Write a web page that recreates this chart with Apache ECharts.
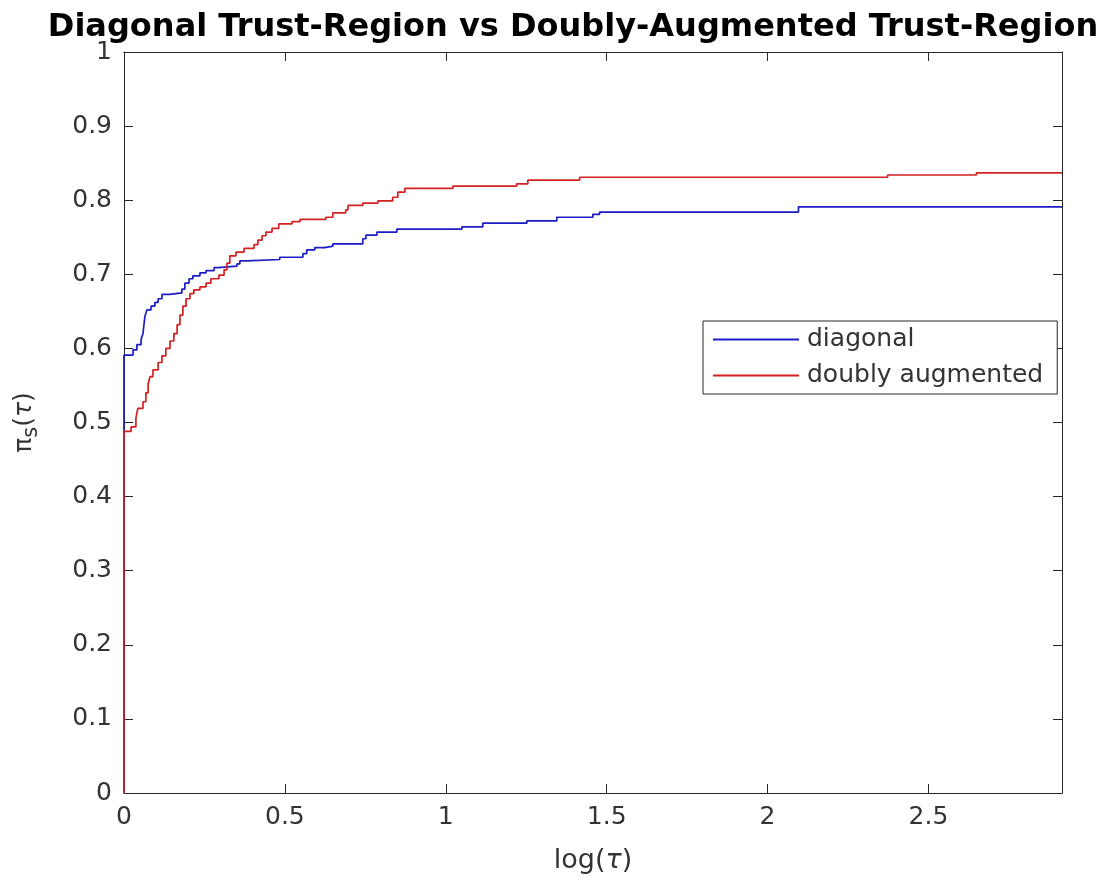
<!DOCTYPE html>
<html>
<head>
<meta charset="utf-8">
<script src="https://cdn.jsdelivr.net/npm/echarts@6/dist/echarts.min.js"></script>
<style>
  html, body { margin: 0; padding: 0; background: #fff; }
  #chart { width: 1120px; height: 882px; }
</style>
</head>
<body>
<div id="chart"></div>
<script>
// Performance profiles: fraction of problems solved within a factor tau of the best
const xMin = 0;
const xMax = 2.915;
const xInterval = 0.5;
const yTicks = [0, 0.1, 0.2, 0.3, 0.4, 0.5, 0.6, 0.7, 0.8, 0.9, 1];

const seriesNames = ['diagonal', 'doubly augmented'];

// [log(tau), pi_s(tau)] where the profile jumps to the given value
const diagonalProfile = [
  [0, 0], [0, 0.591], [0.028, 0.598], [0.040, 0.605], [0.053, 0.612], [0.059, 0.620],
  [0.062, 0.632], [0.065, 0.643], [0.071, 0.652], [0.084, 0.657], [0.096, 0.662],
  [0.106, 0.667], [0.118, 0.673], [0.143, 0.675], [0.180, 0.680], [0.189, 0.688],
  [0.202, 0.694], [0.214, 0.698], [0.236, 0.702], [0.255, 0.705], [0.280, 0.709],
  [0.292, 0.711], [0.351, 0.714], [0.360, 0.718], [0.382, 0.720], [0.484, 0.723],
  [0.556, 0.728], [0.568, 0.733], [0.593, 0.736], [0.624, 0.738], [0.649, 0.741],
  [0.742, 0.748], [0.752, 0.753], [0.786, 0.757], [0.848, 0.761], [1.050, 0.764],
  [1.115, 0.769], [1.252, 0.772], [1.345, 0.777], [1.457, 0.781], [1.478, 0.784],
  [2.096, 0.791], [2.915, 0.791]
];

const doublyAugmentedProfile = [
  [0, 0], [0, 0.488], [0.022, 0.494], [0.037, 0.506], [0.043, 0.519], [0.059, 0.528],
  [0.068, 0.540], [0.075, 0.552], [0.081, 0.562], [0.090, 0.571], [0.106, 0.581],
  [0.118, 0.590], [0.130, 0.600], [0.143, 0.610], [0.155, 0.620], [0.165, 0.632],
  [0.174, 0.645], [0.183, 0.657], [0.193, 0.667], [0.205, 0.674], [0.217, 0.679],
  [0.236, 0.683], [0.255, 0.688], [0.270, 0.694], [0.295, 0.699], [0.311, 0.706],
  [0.320, 0.715], [0.329, 0.725], [0.348, 0.730], [0.373, 0.735], [0.404, 0.740],
  [0.416, 0.746], [0.429, 0.752], [0.441, 0.757], [0.460, 0.762], [0.481, 0.768],
  [0.522, 0.771], [0.547, 0.774], [0.627, 0.777], [0.649, 0.783], [0.689, 0.787],
  [0.696, 0.793], [0.742, 0.796], [0.789, 0.799], [0.835, 0.804], [0.851, 0.811],
  [0.873, 0.816], [1.022, 0.819], [1.220, 0.822], [1.255, 0.827], [1.416, 0.831],
  [2.373, 0.834], [2.649, 0.837], [2.915, 0.837]
];

const axisColor = '#262626';
const labelColor = '#333333';
const fontFamily = 'DejaVu Sans';

function xLabel(v) {
  const k = Math.round(v / xInterval);
  return Math.abs(k * xInterval - v) < 1e-9 ? String(v) : '';
}

const baseX = {
  type: 'value', min: xMin, max: xMax, interval: xInterval,
  axisLine: { show: true, onZero: false, lineStyle: { color: axisColor, width: 1 } },
  axisTick: { show: true, inside: true, length: 9, lineStyle: { color: axisColor } },
  splitLine: { show: false }
};
const baseY = {
  type: 'value', min: yTicks[0], max: yTicks[yTicks.length - 1], interval: 0.1,
  axisLine: { show: true, onZero: false, lineStyle: { color: axisColor, width: 1 } },
  axisTick: { show: true, inside: true, length: 9, lineStyle: { color: axisColor } },
  splitLine: { show: false }
};

const chart = echarts.init(document.getElementById('chart'), null, { renderer: 'canvas' });
chart.setOption({
  animation: false,
  backgroundColor: '#ffffff',
  textStyle: { fontFamily: fontFamily },
  title: {
    text: 'Diagonal Trust-Region vs Doubly-Augmented Trust-Region',
    left: 568, top: 7, textAlign: 'center',
    textStyle: { fontFamily: fontFamily, fontWeight: 'bold', fontSize: 32, color: '#000' }
  },
  grid: { left: 124, right: 58, top: 52, bottom: 89, containLabel: false },
  legend: {
    data: seriesNames,
    orient: 'vertical',
    left: 703, top: 321,
    padding: [6, 14, 6, 10],
    itemGap: 11,
    itemWidth: 86, itemHeight: 2,
    icon: 'rect',
    backgroundColor: '#fff',
    borderColor: axisColor, borderWidth: 1,
    textStyle: { fontSize: 25, color: labelColor, fontFamily: fontFamily, padding: [0, 0, 0, 3] }
  },
  xAxis: [
    Object.assign({}, baseX, {
      position: 'bottom',
      name: '{p|log(}{t|τ}{p|)}', nameLocation: 'middle', nameGap: 54,
      nameTextStyle: {
        color: labelColor,
        rich: {
          p: { fontSize: 27, color: labelColor, fontFamily: fontFamily },
          t: { fontSize: 27, color: labelColor, fontFamily: fontFamily, fontStyle: 'italic' }
        }
      },
      axisLabel: { show: true, fontSize: 25, color: labelColor, margin: 12, formatter: xLabel, showMaxLabel: false }
    }),
    Object.assign({}, baseX, { position: 'top', axisLabel: { show: false } })
  ],
  yAxis: [
    Object.assign({}, baseY, {
      position: 'left',
      name: '{p|π}{s|s}{p|(}{t|τ}{p|)}', nameLocation: 'middle', nameGap: 82, nameRotate: 90,
      nameTextStyle: {
        color: labelColor,
        rich: {
          p: { fontSize: 25, color: labelColor, fontFamily: fontFamily },
          t: { fontSize: 25, color: labelColor, fontFamily: fontFamily, fontStyle: 'italic' },
          s: { fontSize: 21, color: labelColor, fontFamily: fontFamily, verticalAlign: 'bottom', padding: [14, 0, 0, 0] }
        }
      },
      axisLabel: { show: true, fontSize: 25, color: labelColor, margin: 12 }
    }),
    Object.assign({}, baseY, { position: 'right', axisLabel: { show: false } })
  ],
  series: [
    {
      name: seriesNames[0], type: 'line', step: 'end', showSymbol: false,
      data: diagonalProfile, xAxisIndex: 0, yAxisIndex: 0,
      lineStyle: { color: '#1c1cc4', width: 1.7 }, itemStyle: { color: '#1c1cc4' }
    },
    {
      name: seriesNames[1], type: 'line', step: 'end', showSymbol: false,
      data: doublyAugmentedProfile, xAxisIndex: 0, yAxisIndex: 0,
      lineStyle: { color: '#d42020', width: 1.7 }, itemStyle: { color: '#d42020' }
    }
  ]
});
</script>
</body>
</html>
